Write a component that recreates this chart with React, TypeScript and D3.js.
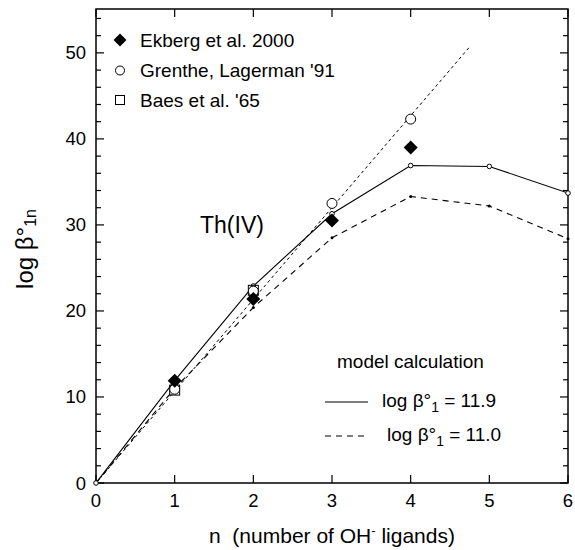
import React from 'react'
import * as d3 from 'd3'

// data
const nValues = [0, 1, 2, 3, 4, 5, 6]
const ekberg = [
  { n: 1, v: 11.9 },
  { n: 2, v: 21.4 },
  { n: 3, v: 30.5 },
  { n: 4, v: 39.0 },
]
const grenthe = [
  { n: 1, v: 10.9 },
  { n: 2, v: 22.3 },
  { n: 3, v: 32.5 },
  { n: 4, v: 42.3 },
]
const baes = [
  { n: 1, v: 10.8 },
  { n: 2, v: 22.4 },
]
const model119 = [0, 11.9, 22.9, 31.3, 36.9, 36.8, 33.7]
const model110 = [0, 11.0, 20.4, 28.5, 33.3, 32.2, 28.4]
const grentheFit = [
  { n: 0, v: 0 },
  { n: 4.75, v: 50.7 },
]
const yMajor = [0, 10, 20, 30, 40, 50]
const yMinor = d3.range(0, 56, 2)

const W = 575
const H = 550
const left = 96
const right = 568
const top = 9
const bottom = 483
const font = '"Liberation Sans", Arial, Helvetica, sans-serif'

// square turned 45deg, like the filled markers in the figure
const diamondPath = (cx: number, cy: number, r: number) =>
  `M${cx},${cy - r}L${cx + r},${cy}L${cx},${cy + r}L${cx - r},${cy}Z`

export default function App() {
  const x = d3.scaleLinear().domain([0, 6]).range([left, right])
  const y = d3.scaleLinear().domain([0, 55.1]).range([bottom, top])

  const line = d3
    .line<{ n: number; v: number }>()
    .x((d) => x(d.n))
    .y((d) => y(d.v))

  const solidPts = model119.map((v, i) => ({ n: nValues[i], v }))
  const dashPts = model110.map((v, i) => ({ n: nValues[i], v }))

  return (
    <svg
      width={W}
      height={H}
      style={{ position: 'absolute', left: 0, top: 0, background: '#fff' }}
      fontFamily={font}
    >
      <defs>
        <clipPath id="plot">
          <rect x={left} y={top} width={right - left} height={bottom - top} />
        </clipPath>
      </defs>

      {/* frame */}
      <rect
        x={left}
        y={top}
        width={right - left}
        height={bottom - top}
        fill="none"
        stroke="#000"
        strokeWidth={1.5}
      />

      {/* y ticks, left and right, inward */}
      {yMinor.map((t) => {
        const major = t % 10 === 0
        const len = major ? 8 : 5
        return (
          <g key={'yt' + t} stroke="#000" strokeWidth={1.2}>
            <line x1={left} x2={left + len} y1={y(t)} y2={y(t)} />
            <line x1={right} x2={right - len} y1={y(t)} y2={y(t)} />
          </g>
        )
      })}
      {yMajor.map((t) => (
        <text
          key={'yl' + t}
          x={left - 10}
          y={y(t) + 6.5}
          textAnchor="end"
          fontSize={18.5}
        >
          {t}
        </text>
      ))}

      {/* x ticks, bottom and top */}
      {nValues.map((t) => (
        <g key={'xt' + t} stroke="#000" strokeWidth={1.2}>
          <line x1={x(t)} x2={x(t)} y1={bottom} y2={bottom - 8} />
          <line x1={x(t)} x2={x(t)} y1={top} y2={top + 8} />
        </g>
      ))}
      {nValues.map((t) => (
        <text
          key={'xl' + t}
          x={x(t)}
          y={bottom + 24}
          textAnchor="middle"
          fontSize={18.5}
        >
          {t}
        </text>
      ))}

      <g clipPath="url(#plot)" fill="none" stroke="#000">
        <path d={line(grentheFit) || ''} strokeWidth={1} strokeDasharray="3,3" />
        <path d={line(dashPts) || ''} strokeWidth={1.1} strokeDasharray="6,5" />
        <path d={line(solidPts) || ''} strokeWidth={1.1} />
      </g>

      {/* model points */}
      {dashPts.slice(1).map((d) => (
        <circle key={'dp' + d.n} cx={x(d.n)} cy={y(d.v)} r={1.5} fill="#000" />
      ))}
      {solidPts.map((d) => (
        <circle
          key={'sp' + d.n}
          cx={x(d.n)}
          cy={y(d.v)}
          r={2.3}
          fill="#fff"
          stroke="#000"
          strokeWidth={1}
        />
      ))}

      {/* data */}
      {baes.map((d) => (
        <rect
          key={'b' + d.n}
          x={x(d.n) - 5}
          y={y(d.v) - 5}
          width={10}
          height={10}
          fill="none"
          stroke="#000"
          strokeWidth={1}
        />
      ))}
      {grenthe.map((d) => (
        <circle
          key={'g' + d.n}
          cx={x(d.n)}
          cy={y(d.v)}
          r={5}
          fill="#fff"
          stroke="#000"
          strokeWidth={1}
        />
      ))}
      {ekberg.map((d) => (
        <path key={'e' + d.n} d={diamondPath(x(d.n), y(d.v), 7)} fill="#000" />
      ))}

      {/* legend for data */}
      <path d={diamondPath(120, 40, 6.5)} fill="#000" />
      <circle cx={120} cy={70.5} r={4.5} fill="#fff" stroke="#000" strokeWidth={1} />
      <rect x={115.5} y={95.5} width={9} height={9} fill="none" stroke="#000" strokeWidth={1} />
      <g fontSize={19}>
        <text x={140} y={47}>Ekberg et al. 2000</text>
        <text x={140} y={77}>Grenthe, Lagerman '91</text>
        <text x={140} y={107}>Baes et al. '65</text>
      </g>

      <text x={200} y={233} fontSize={23}>
        Th(IV)
      </text>

      {/* model legend */}
      <text x={337} y={368} fontSize={19}>
        model calculation
      </text>
      <line x1={325} x2={368} y1={402} y2={402} stroke="#000" strokeWidth={1.1} />
      <line
        x1={325}
        x2={368}
        y1={436}
        y2={436}
        stroke="#000"
        strokeWidth={1.1}
        strokeDasharray="6,5"
      />
      <text x={382} y={407} fontSize={19}>
        log β°<tspan dy={5} fontSize={14}>1</tspan>
        <tspan dy={-5}> = 11.9</tspan>
      </text>
      <text x={387} y={441} fontSize={19}>
        log β°<tspan dy={5} fontSize={14}>1</tspan>
        <tspan dy={-5}> = 11.0</tspan>
      </text>

      {/* axis titles */}
      <text
        transform="translate(33,249) rotate(-90)"
        textAnchor="middle"
        fontSize={24}
      >
        log β°<tspan dy={3} fontSize={16}>1n</tspan>
      </text>
      <text x={209} y={543} fontSize={21}>
        n{'\u00a0\u00a0'}(number of OH<tspan dy={-8} fontSize={13}>-</tspan>
        <tspan dy={8}> ligands)</tspan>
      </text>
    </svg>
  )
}
